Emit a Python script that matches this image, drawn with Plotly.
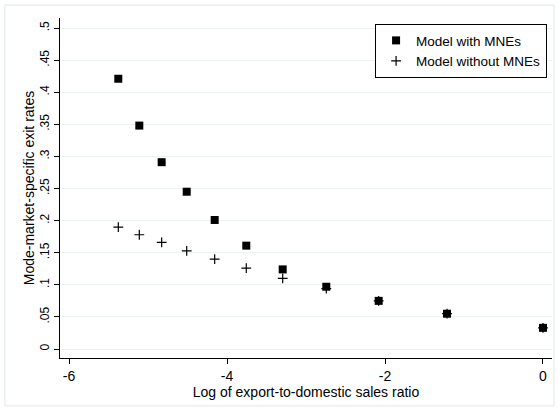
import plotly.graph_objects as go

# Log of export-to-domestic sales ratio
log_ratio = [-5.376, -5.11, -4.827, -4.51, -4.156, -3.756, -3.295, -2.743, -2.08, -1.215, 0.0]

# Mode-market-specific exit rates
with_mne = [0.421, 0.348, 0.291, 0.245, 0.201, 0.161, 0.124, 0.097, 0.075, 0.055, 0.033]
without_mne = [0.190, 0.178, 0.166, 0.153, 0.140, 0.126, 0.110, 0.094, 0.075, 0.055, 0.033]

y_ticks = [0, 0.05, 0.1, 0.15, 0.2, 0.25, 0.3, 0.35, 0.4, 0.45, 0.5]
y_labels = ["0", ".05", ".1", ".15", ".2", ".25", ".3", ".35", ".4", ".45", ".5"]
x_ticks = [-6, -4, -2, 0]
x_labels = ["-6", "-4", "-2", "0"]

font = "Liberation Sans, Arial, sans-serif"

fig = go.Figure()

fig.add_trace(go.Scatter(
    x=log_ratio, y=with_mne,
    mode="markers",
    name="Model with MNEs",
    marker=dict(symbol="square", size=8, color="black"),
))

fig.add_trace(go.Scatter(
    x=log_ratio, y=without_mne,
    mode="markers",
    name="Model without MNEs",
    marker=dict(symbol="cross-thin", size=7, line=dict(color="black", width=1.2)),
))

fig.update_layout(
    width=559, height=411,
    margin=dict(l=60, r=7, t=18, b=53),
    paper_bgcolor="white",
    plot_bgcolor="white",
    font=dict(family=font, size=13, color="black"),
    showlegend=True,
    legend=dict(
        x=0.99, y=0.982, xanchor="right", yanchor="top",
        bordercolor="black", borderwidth=1, bgcolor="white",
        font=dict(size=13.5), tracegroupgap=0, itemwidth=30,
    ),
    shapes=[dict(
        type="rect", xref="paper", yref="paper",
        x0=-0.112, x1=1.004, y0=-0.141, y1=1.038,
        line=dict(color="#dfe8ea", width=1), layer="below",
    )],
)

fig.update_xaxes(
    range=[-6.114, 0.114],
    tickvals=x_ticks, ticktext=x_labels,
    tickfont=dict(size=14),
    ticks="outside", ticklen=5, tickcolor="black",
    showline=True, linecolor="black", linewidth=1,
    showgrid=False, zeroline=False, automargin=False,
    title=dict(text="Log of export-to-domestic sales ratio", font=dict(size=14), standoff=0),
)

fig.update_yaxes(
    range=[-0.014, 0.5156],
    tickvals=y_ticks, ticktext=y_labels, tickangle=-90,
    tickfont=dict(size=12),
    ticks="outside", ticklen=5, tickcolor="black",
    showline=True, linecolor="black", linewidth=1,
    showgrid=True, gridcolor="#eaf2f3", gridwidth=1, zeroline=False, automargin=False,
    title=dict(text="Mode-market-specific exit rates", font=dict(size=14), standoff=0),
)

fig.write_html("out.html", config={"displayModeBar": False},
               post_script="document.body.style.margin='0';")
